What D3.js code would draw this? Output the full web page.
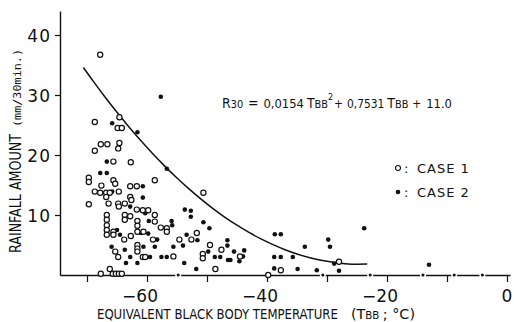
<!DOCTYPE html>
<html><head><meta charset="utf-8">
<script src="https://cdn.jsdelivr.net/npm/d3@7"></script>
<style>body{margin:0;background:#fff}</style>
</head><body>
<svg id="c" width="514" height="322"></svg>
<script>
// Case 1 (open circles): [TBB (°C), R30 (mm/30min)]
const case1 = [
[-67.8,36.7],[-68.7,25.5],[-64.6,26.3],[-64.9,24.5],[-64.2,24.5],
[-67.7,21.8],[-66.6,21.8],[-64.6,22.0],[-64.8,21.1],[-68.7,20.7],
[-65.6,18.9],[-62.7,18.8],[-69.7,16.2],[-69.7,15.5],[-67.6,14.9],
[-65.6,15.8],[-65.3,15.2],[-58.7,15.8],[-62.8,14.8],[-61.7,14.8],
[-68.7,13.9],[-67.8,13.7],[-66.8,13.7],[-66.2,13.7],[-64.7,13.9],
[-50.6,13.7],[-62.8,13.0],[-66.8,13.0],[-69.7,11.8],[-66.4,11.9],
[-64.8,11.9],[-63.7,11.9],[-62.6,12.5],[-64.7,11.4],[-61.7,10.9],
[-60.7,10.8],[-59.8,10.8],[-66.7,10.0],[-63.7,10.0],[-62.8,9.8],
[-58.7,10.0],[-66.7,9.2],[-63.7,9.2],[-61.6,9.0],[-58.7,8.9],
[-66.7,8.3],[-66.7,7.5],[-66.7,6.7],[-61.6,8.2],[-61.6,7.2],
[-57.7,7.9],[-56.7,7.8],[-56.7,7.2],[-51.7,7.0],[-65.6,7.2],
[-65.6,6.7],[-63.8,5.9],[-62.7,6.5],[-60.6,7.2],[-59.0,5.9],
[-54.6,5.9],[-52.6,5.9],[-65.3,3.9],[-61.6,5.0],[-61.6,4.4],
[-61.6,3.9],[-55.6,3.1],[-50.7,3.5],[-50.7,2.8],[-49.5,5.0],
[-47.6,4.2],[-64.8,3.0],[-60.7,3.0],[-60.3,3.0],[-44.5,3.1],
[-48.6,1.0],[-67.7,0.2],[-66.2,1.0],[-65.7,0.2],[-65.2,0.2],
[-64.7,0.2],[-64.2,0.2],[-39.8,0],[-37.7,0.8],[-28.0,2.2]
];
// Case 2 (filled dots)
const case2 = [
[-57.7,29.7],[-65.8,25.3],[-61.6,23.8],[-66.7,18.9],[-56.7,17.7],
[-67.8,17.0],[-66.7,17.0],[-60.7,14.8],[-65.8,13.9],[-60.7,12.9],
[-62.8,11.4],[-53.7,10.9],[-52.7,10.7],[-60.3,10.3],[-52.7,9.7],
[-59.7,9.0],[-55.9,9.0],[-50.6,8.8],[-65.0,7.5],[-55.8,8.3],
[-49.6,7.8],[-64.5,6.7],[-59.8,6.9],[-61.0,7.0],[-58.3,5.9],
[-53.4,6.7],[-51.6,5.8],[-65.9,4.7],[-63.7,4.2],[-60.6,4.7],
[-58.7,4.7],[-55.6,4.7],[-54.0,4.9],[-49.8,3.9],[-46.6,5.8],
[-46.6,4.9],[-45.5,3.9],[-43.8,4.1],[-62.8,3.0],[-59.5,3.0],
[-57.6,3.0],[-56.7,3.0],[-48.7,3.0],[-47.8,3.0],[-46.5,2.5],
[-46.1,2.5],[-44.6,2.3],[-44.0,3.1],[-63.5,2.0],[-61.6,2.0],
[-53.8,2.0],[-51.8,1.0],[-54.8,0],[-38.7,6.8],[-37.7,6.8],
[-33.7,4.7],[-29.8,5.9],[-29.5,4.7],[-38.8,3.0],[-37.7,3.0],
[-35.7,3.0],[-28.8,1.9],[-28.0,0.7],[-38.8,1.1],[-34.9,1.0],
[-31.7,0.8],[-30.7,0],[-23.8,7.8],[-22.8,0],[-14.0,0],
[-13.0,1.7],[-8.8,0],[-4.1,0]
];
const xTicks = [-70,-60,-50,-40,-30,-20,-10,0];
const xTickLabels = [-60,-40,-20,0];
const yTicks = [10,20,30,40];
const yTickLabels = [10,20,30,40];
// regression shown on the chart: R30 = a*T^2 + b*T + c
const fitCoef = [0.0154, 0.7531, 11.0];
const fitT = [-70.6,-69,-67,-65,-63,-61,-59,-57,-55,-53,-51,-49,-47,-45,-43,-41,-39,-37,-35,-33,-31,-29,-27,-25,-23.3];

const svg = d3.select("#c");
const x = d3.scaleLinear().domain([-74.5, 0.5]).range([60, 510]);
const y = d3.scaleLinear().domain([0, 44]).range([275, 11]);
const numFont = "'DejaVu Sans', sans-serif";
const condFont = "'DejaVu Sans Condensed', 'DejaVu Sans', sans-serif";
const ink = "#111";

// sequence of separate text pieces, scaled horizontally to span [x0, x1]
function textRun(parts, x0, x1, yBase, family) {
  const g = svg.append("g");
  let cx = x0;
  parts.forEach(p => {
    const t = g.append("text").attr("x", cx).attr("y", yBase + (p.dy || 0))
      .attr("font-family", family).attr("font-size", p.size).attr("fill", ink)
      .text(p.t);
    cx += t.node().getComputedTextLength() + (p.gap || 0);
  });
  const w = cx - x0;
  const s = (x1 - x0) / w;
  g.attr("transform", `translate(${x0},0) scale(${s},1) translate(${-x0},0)`);
  return g;
}

// axes
svg.append("g").attr("transform", "translate(0,275)")
  .call(d3.axisBottom(x).tickValues(xTicks).tickSize(7).tickSizeOuter(0).tickFormat(""));
svg.append("g").attr("transform", "translate(60,0)")
  .call(d3.axisLeft(y).tickValues(yTicks).tickSize(5).tickSizeOuter(0).tickFormat(""));
svg.selectAll(".domain").attr("stroke", ink).attr("stroke-width", 1.4);
svg.selectAll(".tick line").attr("stroke", ink).attr("stroke-width", 1.2);

// y tick labels
svg.append("g").selectAll("text").data(yTickLabels).join("text")
  .attr("x", 51).attr("y", d => y(d) + 6.5)
  .attr("text-anchor", "end").attr("font-family", numFont).attr("font-size", 17)
  .attr("letter-spacing", 1).attr("fill", ink).text(d => d);

// x tick labels (digits centred on tick, minus sign hanging left)
svg.append("g").selectAll("text").data(xTickLabels).join("text")
  .attr("x", d => d === 0 ? x(d) : x(d) + 11).attr("y", 302)
  .attr("text-anchor", d => d === 0 ? "middle" : "end")
  .attr("font-family", numFont).attr("font-size", 17).attr("fill", ink)
  .text(d => d === 0 ? "0" : "\u2212" + Math.abs(d));

// x axis title
textRun([{t: "EQUIVALENT BLACK BODY TEMPERATURE", size: 14}], 97, 338, 319, condFont);
textRun([
  {t: "(T", size: 14},
  {t: "BB", size: 10, gap: 3},
  {t: "; °C)", size: 14}
], 351, 415, 319, condFont);

// y axis title
svg.append("text").attr("transform", "translate(21,253) rotate(-90)")
  .attr("font-family", condFont).attr("font-size", 16).attr("fill", ink)
  .attr("textLength", 119).attr("lengthAdjust", "spacingAndGlyphs")
  .text("RAINFALL AMOUNT");
svg.append("text").attr("transform", "translate(21,127) rotate(-90)")
  .attr("font-family", "'DejaVu Sans Mono', monospace").attr("font-size", 11).attr("fill", ink)
  .attr("textLength", 78).attr("lengthAdjust", "spacingAndGlyphs")
  .text("(mm/30min.)");

// regression curve
const fitData = fitT.map(t => [t, fitCoef[0]*t*t + fitCoef[1]*t + fitCoef[2]]);
svg.append("path").datum(fitData)
  .attr("d", d3.line().x(d => x(d[0])).y(d => y(d[1])).curve(d3.curveMonotoneX))
  .attr("fill", "none").attr("stroke", ink).attr("stroke-width", 1.5);

// equation
textRun([
  {t: "R", size: 14},
  {t: "30", size: 11, gap: 5},
  {t: "=", size: 14, gap: 5},
  {t: "0,0154", size: 13, gap: 3},
  {t: "T", size: 14},
  {t: "BB", size: 11},
  {t: "2", size: 9, dy: -8, gap: 1},
  {t: "+", size: 12, gap: 4},
  {t: "0,7531", size: 12, gap: 3},
  {t: "T", size: 14},
  {t: "BB", size: 11, gap: 4},
  {t: "+", size: 12, gap: 5},
  {t: "11.0", size: 13}
], 222, 452, 108, condFont);

// points
svg.append("g").selectAll("circle").data(case2).join("circle")
  .attr("cx", d => x(d[0])).attr("cy", d => y(d[1])).attr("r", 2.3)
  .attr("fill", ink).attr("stroke", d => d[1] === 0 ? "#fff" : "none").attr("stroke-width", 1.5);
svg.append("g").selectAll("circle").data(case1).join("circle")
  .attr("cx", d => x(d[0])).attr("cy", d => y(d[1])).attr("r", 2.6)
  .attr("fill", "#fff").attr("stroke", ink).attr("stroke-width", 1.2);

// legend
const legend = [{label: "CASE 1", open: true, yy: 168}, {label: "CASE 2", open: false, yy: 192}];
const lg = svg.append("g").selectAll("g").data(legend).join("g");
lg.append("circle").attr("cx", 398).attr("cy", d => d.yy).attr("r", d => d.open ? 2.5 : 2.3)
  .attr("fill", d => d.open ? "#fff" : ink).attr("stroke", ink).attr("stroke-width", d => d.open ? 1.1 : 0);
lg.append("text").attr("x", 404).attr("y", d => d.yy + 5)
  .attr("font-family", numFont).attr("font-size", 13).attr("fill", ink)
  .text(":");
lg.append("text").attr("x", 417).attr("y", d => d.yy + 5)
  .attr("font-family", numFont).attr("font-size", 13).attr("letter-spacing", 1).attr("fill", ink)
  .text(d => d.label);
</script>
</body></html>
